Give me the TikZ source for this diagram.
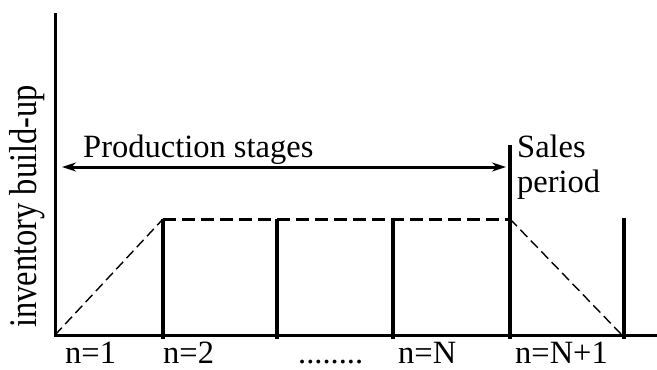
\documentclass[tikz,border=0pt]{standalone}
\usepackage{fontspec}
\setmainfont{Liberation Serif}
\newfontfamily\tnr{Liberation Serif}
\usetikzlibrary{arrows.meta}
\begin{document}
\begin{tikzpicture}[x=1pt,y=-1pt,
  lbl/.style={inner sep=0pt,anchor=base west,font=\tnr\fontsize{32.5}{35}\selectfont},
  axisline/.style={line width=3pt},
  bar/.style={line width=4pt},
  flatdash/.style={line width=3pt,dash pattern=on 13pt off 6pt},
  slopedash/.style={line width=1.4pt,dash pattern=on 10pt off 5pt},
  span/.style={line width=3pt,{Stealth[length=14pt,width=9pt]}-{Stealth[length=14pt,width=9pt]}}]
\useasboundingbox (0,0) rectangle (657,370);
% axes
\coordinate (o) at (55,335);
\coordinate (ytop) at (55,13);
\coordinate (xend) at (657,335);
\draw[axisline] (ytop) -- (o) -- (xend);
% bars
\coordinate (b2t) at (163,219); \coordinate (b2b) at (163,339);
\coordinate (b3t) at (277,219); \coordinate (b3b) at (277,339);
\coordinate (b4t) at (393,219); \coordinate (b4b) at (393,339);
\coordinate (b5t) at (510,145); \coordinate (b5b) at (510,339);
\coordinate (b6t) at (624,218); \coordinate (b6b) at (624,339);
\coordinate (b5m) at (510,219);
\coordinate (b6e) at (621,334);
\draw[bar] (b2t) -- (b2b);
\draw[bar] (b3t) -- (b3b);
\draw[bar] (b4t) -- (b4b);
\draw[bar] (b5t) -- (b5b);
\draw[bar] (b6t) -- (b6b);
% inventory profile
\draw[slopedash] (o) -- (b2t);
\draw[flatdash] (b2t) -- (b5m);
\draw[slopedash] (b5m) -- (b6e);
% production span
\coordinate (pl) at (62,167);
\coordinate (pr) at (506,167);
\draw[span] (pl) -- (pr);
% texts
\node[lbl] (prod) at (83,157) {Production stages};
\node[lbl] (sales) at (517,157) {Sales};
\node[lbl] (period) at (517,192) {period};
\node[lbl,rotate=90] (ylab) at (37,328) {\scalebox{1}[1.2]{inventory build-up}};
\node[lbl] (n1) at (65,363) {n=1};
\node[lbl] (n2) at (163,363) {n=2};
\node[lbl] (dots) at (298,363) {........};
\node[lbl] (nN) at (398,363) {n=N};
\node[lbl] (nN1) at (515,363) {n=N+1};
\end{tikzpicture}
\end{document}
